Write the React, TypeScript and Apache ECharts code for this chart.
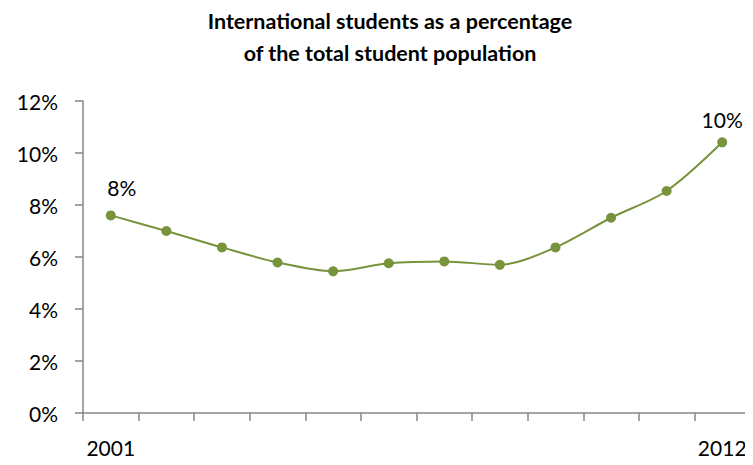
import React, { useEffect, useRef } from "react";
import * as echarts from "echarts";

const years = ["2001", "2002", "2003", "2004", "2005", "2006", "2007", "2008", "2009", "2010", "2011", "2012"];
const shares = [7.6, 7.0, 6.37, 5.79, 5.45, 5.76, 5.83, 5.7, 6.37, 7.51, 8.54, 10.41];
const labelledYears = ["2001", "2012"];

const FONT = "Lato, 'Open Sans', sans-serif";

export default function App() {
  const ref = useRef<HTMLDivElement>(null);
  useEffect(() => {
    if (!ref.current) return;
    const chart = echarts.init(ref.current, null, { renderer: "svg" });
    const lastIdx = shares.length - 1;
    const labelStyle = {
      fontFamily: FONT,
      fontSize: 21,
      color: "#000000",
    };
    chart.setOption({
      animation: false,
      backgroundColor: "#ffffff",
      title: {
        text: "International students as a percentage\nof the total student population",
        left: 385,
        top: 0,
        textAlign: "center",
        textStyle: {
          fontFamily: FONT,
          fontWeight: "bold",
          fontSize: 21.5,
          lineHeight: 32,
          color: "#000000",
        },
      },
      grid: { left: 83, right: 3, top: 101, bottom: 52, containLabel: false },
      xAxis: {
        type: "category",
        data: years,
        boundaryGap: true,
        axisLine: { show: true, lineStyle: { color: "#868686", width: 1.5 } },
        axisTick: { show: true, inside: false, length: 8, interval: 0, lineStyle: { color: "#868686", width: 1.5 } },
        axisLabel: {
          interval: 0,
          formatter: (v: string) => (labelledYears.includes(v) ? v : ""),
          margin: 24,
          ...labelStyle,
        },
        splitLine: { show: false },
      },
      yAxis: {
        type: "value",
        min: 0,
        max: 12,
        interval: 2,
        axisLine: { show: true, lineStyle: { color: "#868686", width: 1.5 } },
        axisTick: { show: true, inside: false, length: 8, lineStyle: { color: "#868686", width: 1.5 } },
        axisLabel: {
          formatter: (v: number) => v + "%",
          margin: 25,
          ...labelStyle,
        },
        splitLine: { show: false },
      },
      series: [
        {
          type: "line",
          smooth: 0.3,
          symbol: "circle",
          symbolSize: 10,
          lineStyle: { color: "#77933C", width: 2 },
          itemStyle: { color: "#77933C" },
          data: shares.map((v, i) => {
            if (i === 0) {
              return {
                value: v,
                label: {
                  show: true,
                  position: "top",
                  distance: 12,
                  offset: [11, 0],
                  formatter: (p: any) => Math.round(p.value) + "%",
                  ...labelStyle,
                },
              };
            }
            if (i === lastIdx) {
              return {
                value: v,
                label: {
                  show: true,
                  position: "top",
                  distance: 7,
                  formatter: (p: any) => Math.round(p.value) + "%",
                  ...labelStyle,
                },
              };
            }
            return v;
          }),
        },
      ],
    });
    return () => chart.dispose();
  }, []);
  return <div ref={ref} style={{ width: 753, height: 465, margin: -8 }} />;
}
